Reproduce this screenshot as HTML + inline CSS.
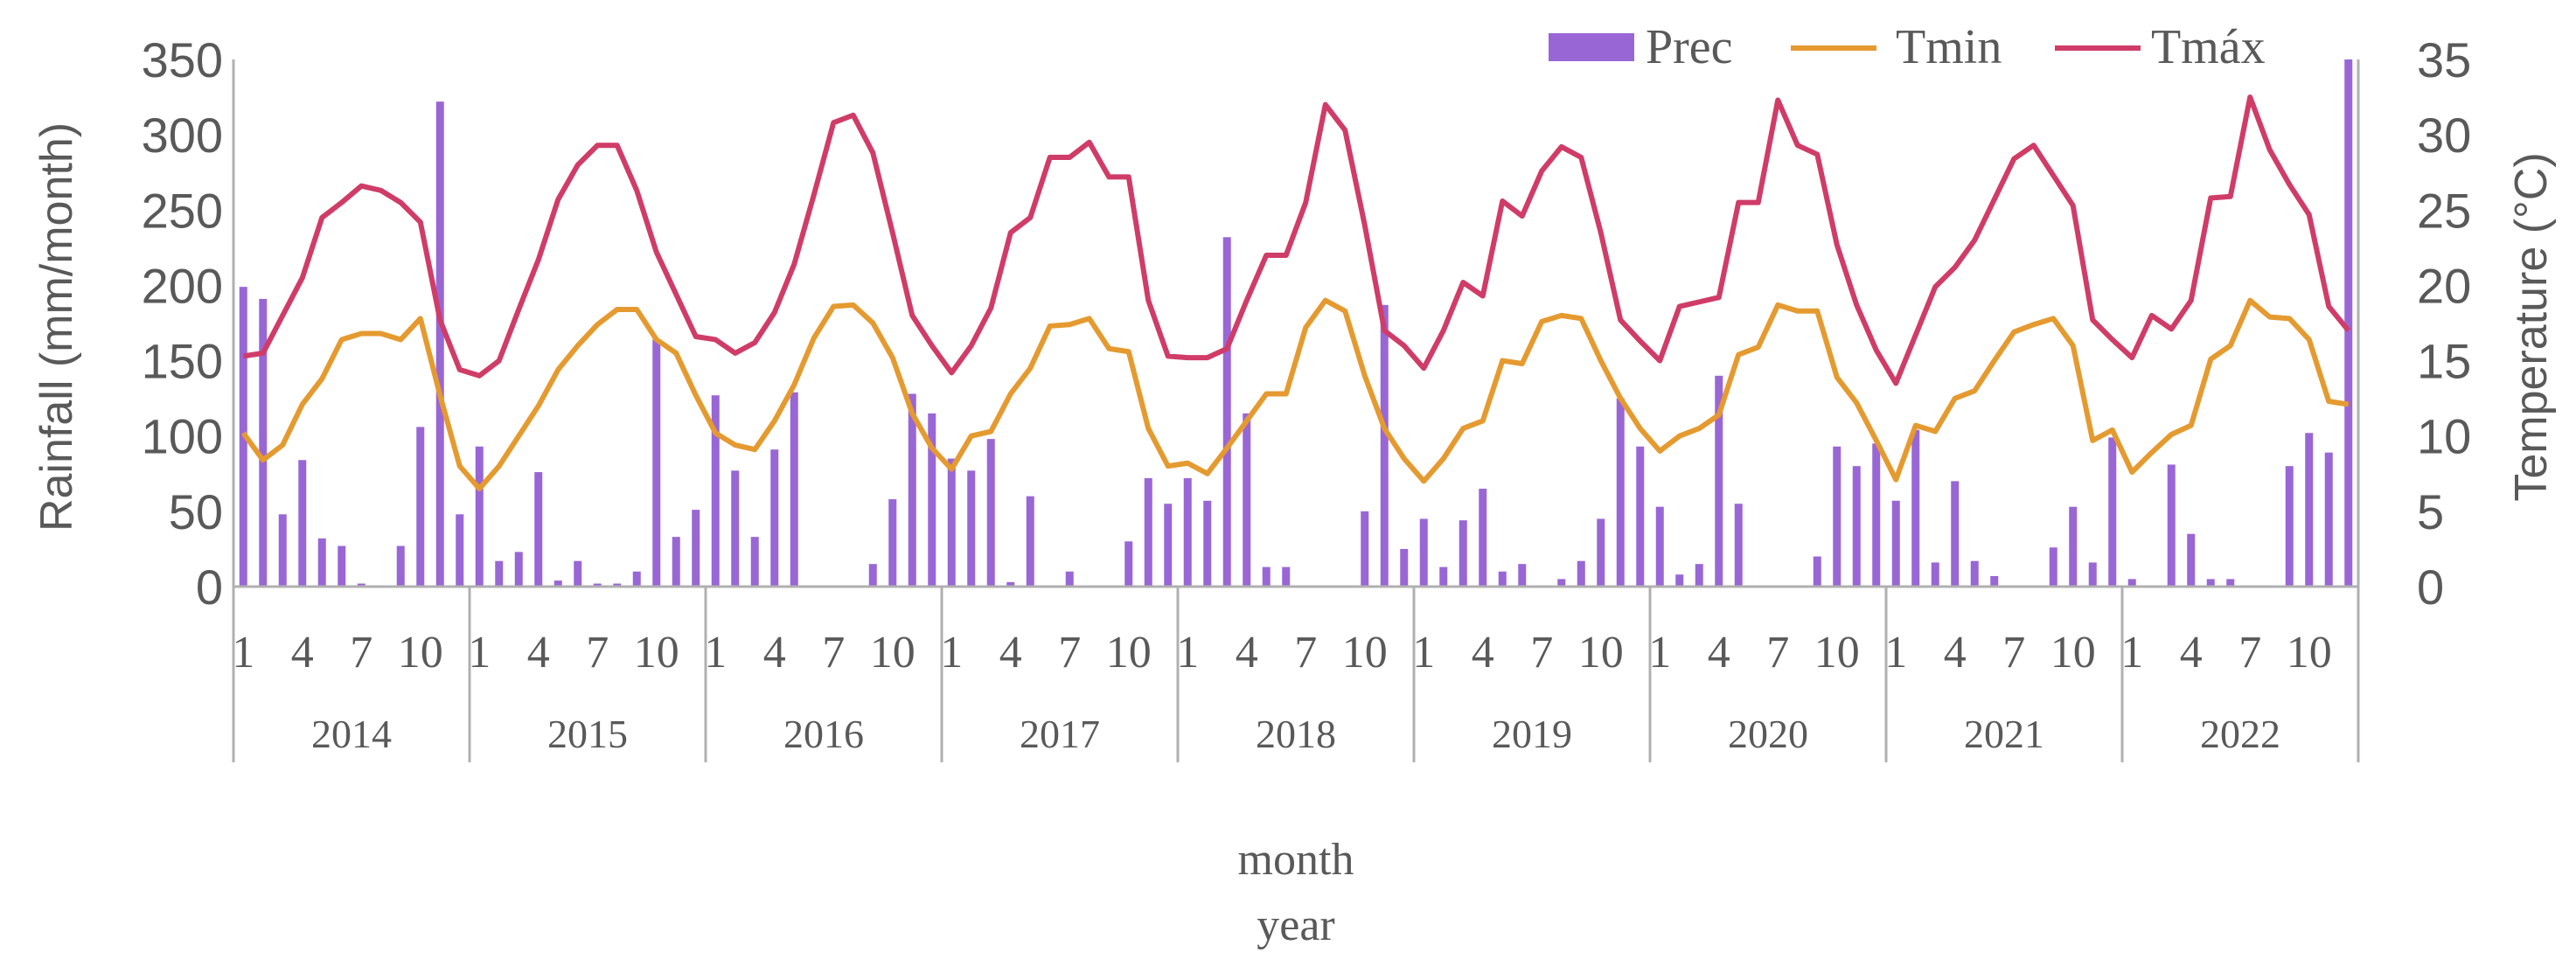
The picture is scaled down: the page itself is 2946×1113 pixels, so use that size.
<!DOCTYPE html>
<html><head><meta charset="utf-8"><style>
html,body{margin:0;padding:0;background:#fff;}
svg{display:block;}
text{fill:#595959;}
</style></head><body>
<svg id="chart" width="2946" height="1113" viewBox="0 0 2946 1113" xmlns="http://www.w3.org/2000/svg">
<g id="grid"></g>
<g id="bars"></g>
<g id="lines"></g>
<g id="axes"></g>
<text x="0" y="0" transform="translate(82,374) rotate(-90)" text-anchor="middle" font-family="Liberation Sans, sans-serif" font-size="52">Rainfall (mm/month)</text>
<text x="0" y="0" transform="translate(2912,374) rotate(-90)" text-anchor="middle" font-family="Liberation Sans, sans-serif" font-size="52">Temperature (°C)</text>
<text x="1482" y="1000" text-anchor="middle" font-family="Liberation Serif, serif" font-size="52">month</text>
<text x="1482" y="1075" text-anchor="middle" font-family="Liberation Serif, serif" font-size="52">year</text>
<g>
  <rect x="1771" y="38" width="98" height="32" fill="#9966d6"/>
  <text x="1882" y="72" font-family="Liberation Serif, serif" font-size="56">Prec</text>
  <line x1="2048" y1="55" x2="2146" y2="55" stroke="#e59a30" stroke-width="6"/>
  <text x="2168" y="72" font-family="Liberation Serif, serif" font-size="56">Tmin</text>
  <line x1="2350" y1="55" x2="2448" y2="55" stroke="#d03c68" stroke-width="6"/>
  <text x="2460" y="72" font-family="Liberation Serif, serif" font-size="56">Tmáx</text>
</g>
</svg>
<script>
const years = ["2014","2015","2016","2017","2018","2019","2020","2021","2022"];
const monthTicks = ["1","4","7","10"];
const leftTicks = [0,50,100,150,200,250,300,350];
const rightTicks = [0,5,10,15,20,25,30,35];
const prec = [
199,191,48,84,32,27,2,0,27,106,322,48,
93,17,23,76,4,17,2,2,10,164,33,51,
127,77,33,91,129,0,0,0,15,58,128,115,
85,77,98,3,60,0,10,0,0,30,72,55,
72,57,232,115,13,13,0,0,0,50,187,25,
45,13,44,65,10,15,0,5,17,45,125,93,
53,8,15,140,55,0,0,0,20,93,80,95,
57,104,16,70,17,7,0,0,26,53,16,99,
5,0,81,35,5,5,0,0,80,102,89,350];
const tmin = [
10.2,8.4,9.4,12.1,13.8,16.4,16.8,16.8,16.4,17.8,12.7,8.0,
6.5,8,10,12,14.4,16,17.4,18.4,18.4,16.4,15.5,12.7,
10.2,9.4,9.1,11,13.4,16.5,18.6,18.7,17.5,15.2,11.5,9.2,
7.8,10,10.3,12.8,14.5,17.3,17.4,17.8,15.8,15.6,10.5,8,
8.2,7.5,9.2,11,12.8,12.8,17.2,19,18.3,14,10.5,8.5,
7,8.5,10.5,11,15,14.8,17.6,18,17.8,15,12.5,10.5,
9,10,10.5,11.4,15.4,15.9,18.7,18.3,18.3,13.9,12.2,9.7,
7.1,10.7,10.3,12.5,13,15,16.9,17.4,17.8,16,9.7,10.4,
7.6,8.9,10.1,10.7,15.1,16,19,17.9,17.8,16.4,12.3,12.1];
const tmax = [
15.3,15.5,18,20.5,24.5,25.5,26.6,26.3,25.5,24.2,17.7,14.4,
14,15,18.4,21.7,25.7,28,29.3,29.3,26.3,22.2,19.4,16.6,
16.4,15.5,16.2,18.2,21.4,26,30.8,31.3,28.8,23.5,18,16,
14.2,16,18.5,23.5,24.5,28.5,28.5,29.5,27.2,27.2,19,15.3,
15.2,15.2,15.8,19,22,22,25.5,32,30.3,24,17,16,
14.5,17,20.2,19.3,25.6,24.6,27.6,29.2,28.5,23.5,17.7,16.3,
15,18.6,18.9,19.2,25.5,25.5,32.3,29.3,28.7,22.7,18.7,15.7,
13.5,16.7,19.9,21.2,23,25.7,28.4,29.3,27.3,25.3,17.7,16.4,
15.2,18,17.1,19,25.8,25.9,32.5,29,26.7,24.7,18.6,17];

const NS="http://www.w3.org/2000/svg";
const X0=267, YEARW=270, MW=YEARW/12, Y0=671, YTOP=68;
function xMonth(i){return X0+(i+0.5)*MW;}
function yRain(v){return Y0-(v/350)*(Y0-YTOP);}
function yTemp(v){return Y0-(v/35)*(Y0-YTOP);}
function mk(tag,attrs,parent){const e=document.createElementNS(NS,tag);for(const k in attrs)e.setAttribute(k,attrs[k]);parent.appendChild(e);return e;}

const bars=document.getElementById('bars');
prec.forEach((v,i)=>{
  const r=mk('rect',{x:xMonth(i)-4.5,y:yRain(v),width:9,height:Math.max(0,Y0-yRain(v)),fill:'#9966d6'},bars);
  
  
});
const lines=document.getElementById('lines');
const pmin=mk('polyline',{points:tmin.map((v,i)=>xMonth(i)+','+yTemp(v)).join(' '),fill:'none',stroke:'#e59a30','stroke-width':6,'stroke-linejoin':'round'},lines);


const pmax=mk('polyline',{points:tmax.map((v,i)=>xMonth(i)+','+yTemp(v)).join(' '),fill:'none',stroke:'#d03c68','stroke-width':6,'stroke-linejoin':'round'},lines);



const axes=document.getElementById('axes');
const XEND=X0+YEARW*years.length;
const la=mk('line',{x1:X0,y1:YTOP,x2:X0,y2:872,stroke:'#b0b0b0','stroke-width':3},axes);


const ra=mk('line',{x1:XEND,y1:YTOP,x2:XEND,y2:872,stroke:'#b0b0b0','stroke-width':3},axes);


const xa=mk('line',{x1:X0,y1:Y0,x2:XEND,y2:Y0,stroke:'#b0b0b0','stroke-width':3},axes);


leftTicks.forEach(v=>{
  const t=mk('text',{x:255,y:yRain(v)+20,'text-anchor':'end','font-family':'Liberation Sans, sans-serif','font-size':56},axes);
  t.textContent=v;
  
  
});
rightTicks.forEach(v=>{
  const t=mk('text',{x:2764,y:yTemp(v)+20,'text-anchor':'start','font-family':'Liberation Sans, sans-serif','font-size':56},axes);
  t.textContent=v;
  
  
});
years.forEach((yr,k)=>{
  if(k>0){
    const s=mk('line',{x1:X0+k*YEARW,y1:Y0,x2:X0+k*YEARW,y2:872,stroke:'#b0b0b0','stroke-width':3},axes);
    
    
  }
  const t=mk('text',{x:X0+k*YEARW+YEARW/2,y:855,'text-anchor':'middle','font-family':'Liberation Serif, serif','font-size':46},axes);
  t.textContent=yr;
  
  
  monthTicks.forEach(m=>{
    const idx=k*12+(+m)-1;
    const mt=mk('text',{x:xMonth(idx),y:763,'text-anchor':'middle','font-family':'Liberation Serif, serif','font-size':52},axes);
    mt.textContent=m;
    
    
  });
});
</script>
</body></html>
